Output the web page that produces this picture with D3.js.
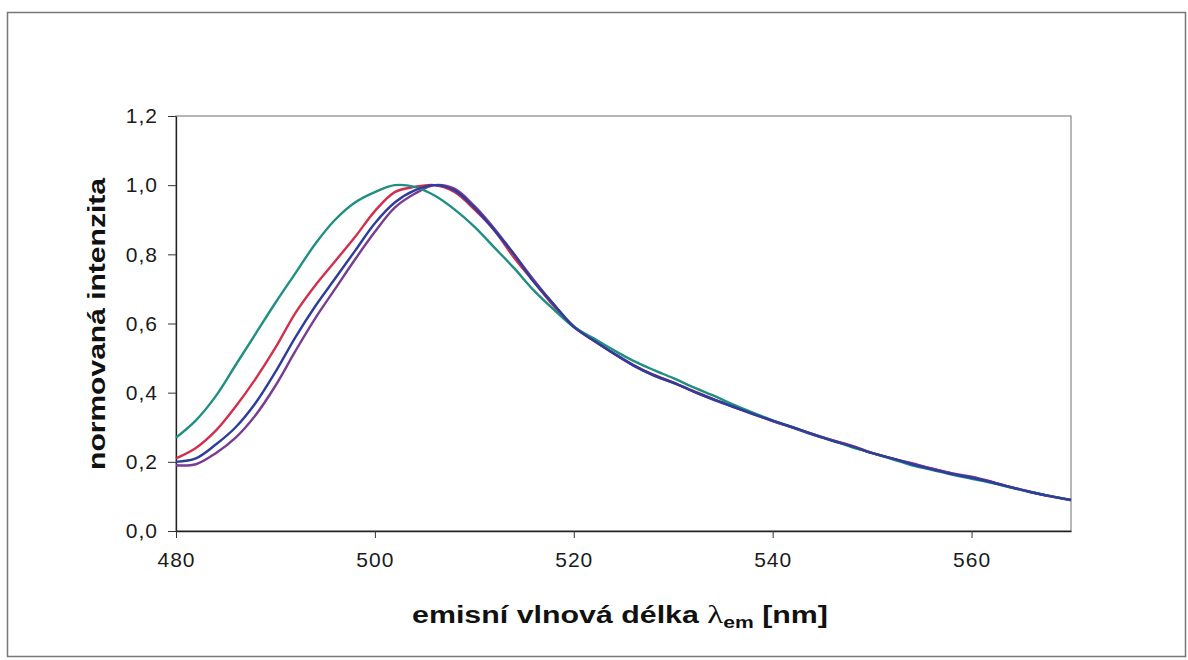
<!DOCTYPE html>
<html>
<head>
<meta charset="utf-8">
<script src="https://cdn.jsdelivr.net/npm/d3@7"></script>
<style>
  body { margin: 0; background: #fff; }
  svg { display: block; font-family: "Liberation Sans", Arial, sans-serif; }
</style>
</head>
<body>
<svg id="chart" width="1188" height="660"></svg>
<script>
// wavelengths (nm), every 2 nm
const wavelengths = [480,482,484,486,488,490,492,494,496,498,500,502,504,506,508,510,512,514,516,518,
  520,522,524,526,528,530,532,534,536,538,540,542,544,546,548,550,552,554,556,558,560,562,564,566,568,570];

// normalised intensity
const tealSeries = [0.27,0.32,0.39,0.48,0.57,0.66,0.745,0.83,0.90,0.95,0.98,1.00,0.995,0.97,0.93,0.88,0.82,0.76,0.695,0.64,
  0.59,0.557,0.523,0.492,0.466,0.442,0.416,0.392,0.366,0.342,0.32,0.30,0.28,0.262,0.242,0.226,0.208,0.19,0.177,0.163,
  0.151,0.139,0.125,0.112,0.101,0.09];
const redSeries = [0.21,0.24,0.29,0.36,0.44,0.53,0.63,0.71,0.78,0.85,0.925,0.98,0.995,1.00,0.98,0.93,0.87,0.79,0.72,0.65,
  0.59,0.55,0.514,0.48,0.452,0.43,0.405,0.382,0.36,0.34,0.318,0.30,0.281,0.263,0.246,0.226,0.21,0.194,0.181,0.166,
  0.155,0.141,0.126,0.112,0.1,0.09];
const purpleSeries = [0.19,0.193,0.225,0.27,0.335,0.42,0.52,0.615,0.70,0.785,0.865,0.935,0.975,1.00,0.99,0.94,0.875,0.80,0.725,0.655,
  0.592,0.552,0.513,0.478,0.45,0.428,0.404,0.38,0.359,0.338,0.318,0.299,0.279,0.262,0.244,0.225,0.209,0.196,0.18,0.167,
  0.157,0.143,0.127,0.113,0.1,0.089];
const blueSeries = [0.20,0.21,0.25,0.30,0.37,0.46,0.56,0.65,0.73,0.81,0.89,0.95,0.985,1.00,0.985,0.935,0.87,0.80,0.72,0.655,
  0.59,0.551,0.514,0.479,0.451,0.429,0.404,0.381,0.36,0.339,0.319,0.3,0.28,0.261,0.245,0.225,0.21,0.193,0.179,0.165,
  0.154,0.141,0.126,0.112,0.1,0.09];

const yTicks = [0, 0.2, 0.4, 0.6, 0.8, 1.0, 1.2];
const xTicks = [480, 500, 520, 540, 560];

const series = [
  { name: "red", values: redSeries, color: "#d22f4e" },
  { name: "purple", values: purpleSeries, color: "#7a3c8e" },
  { name: "teal", values: tealSeries, color: "#1f8f82" },
  { name: "blue", values: blueSeries, color: "#2c3d9c" }
];

const margin = { top: 116, right: 117, bottom: 129, left: 176 };
const width = 1188 - margin.left - margin.right;
const height = 660 - margin.top - margin.bottom;

const svg = d3.select("#chart");

// outer frame
svg.append("rect")
  .attr("x", 7.5).attr("y", 12.5)
  .attr("width", 1178).attr("height", 644)
  .attr("fill", "none")
  .attr("stroke", "#777")
  .attr("stroke-width", 1.5);

const g = svg.append("g")
  .attr("transform", "translate(" + margin.left + "," + margin.top + ")");

const x = d3.scaleLinear().domain([480, 570]).range([0, width]);
const y = d3.scaleLinear().domain([0, 1.2]).range([height, 0]);

// plot area border
g.append("rect")
  .attr("x", 0).attr("y", 0)
  .attr("width", width).attr("height", height)
  .attr("fill", "none")
  .attr("stroke", "#888")
  .attr("stroke-width", 1.2);

const comma = d => d3.format(".1f")(d).replace(".", ",");

const yAxis = g.append("g")
  .call(d3.axisLeft(y).tickValues(yTicks).tickFormat(comma).tickSize(8).tickPadding(10).tickSizeOuter(0));
yAxis.select(".domain").attr("stroke", "#222").attr("stroke-width", 1.3);
yAxis.selectAll(".tick line").attr("stroke", "#333");
yAxis.selectAll("text")
  .attr("font-size", 21).attr("fill", "#1a1a1a")
  .style("letter-spacing", "1px");

const xAxis = g.append("g")
  .attr("transform", "translate(0," + height + ")")
  .call(d3.axisBottom(x).tickValues(xTicks).tickSize(7).tickPadding(14).tickSizeOuter(0));
xAxis.select(".domain").attr("stroke", "#222").attr("stroke-width", 1.3);
xAxis.selectAll(".tick line").attr("stroke", "#333");
xAxis.selectAll("text")
  .attr("font-size", 21).attr("fill", "#1a1a1a")
  .style("letter-spacing", "1px");

// curves
const line = d3.line()
  .x((d, i) => x(wavelengths[i]))
  .y(d => y(d))
  .curve(d3.curveCatmullRom);

g.selectAll(".series")
  .data(series)
  .enter()
  .append("path")
  .attr("class", "series")
  .attr("d", d => line(d.values))
  .attr("fill", "none")
  .attr("stroke", d => d.color)
  .attr("stroke-width", 2.4)
  .attr("stroke-linejoin", "round");

// axis titles
function stretchTo(sel, target) {
  const w = sel.node().getComputedTextLength();
  return target / w;
}

const xTitle = svg.append("text")
  .attr("font-size", 23)
  .attr("font-weight", "bold")
  .attr("fill", "#111")
  .attr("text-anchor", "middle");
xTitle.append("tspan").text("emisní vlnová délka ");
xTitle.append("tspan").text("λ").attr("font-family", "'Liberation Serif', serif").attr("font-weight", "normal").attr("font-size", 25);
xTitle.append("tspan").text("em").attr("font-size", 16).attr("dy", 5);
xTitle.append("tspan").text(" [nm]").attr("dy", -5);
const sx = stretchTo(xTitle, 416);
xTitle.attr("transform", "translate(620,623) scale(" + sx + ",1)");

const yTitle = svg.append("text")
  .attr("font-size", 23)
  .attr("font-weight", "bold")
  .attr("fill", "#111")
  .attr("text-anchor", "middle")
  .text("normovaná intenzita");
const sy = stretchTo(yTitle, 292);
yTitle.attr("transform", "translate(105,324) rotate(-90) scale(" + sy + ",1)");
</script>
</body>
</html>
